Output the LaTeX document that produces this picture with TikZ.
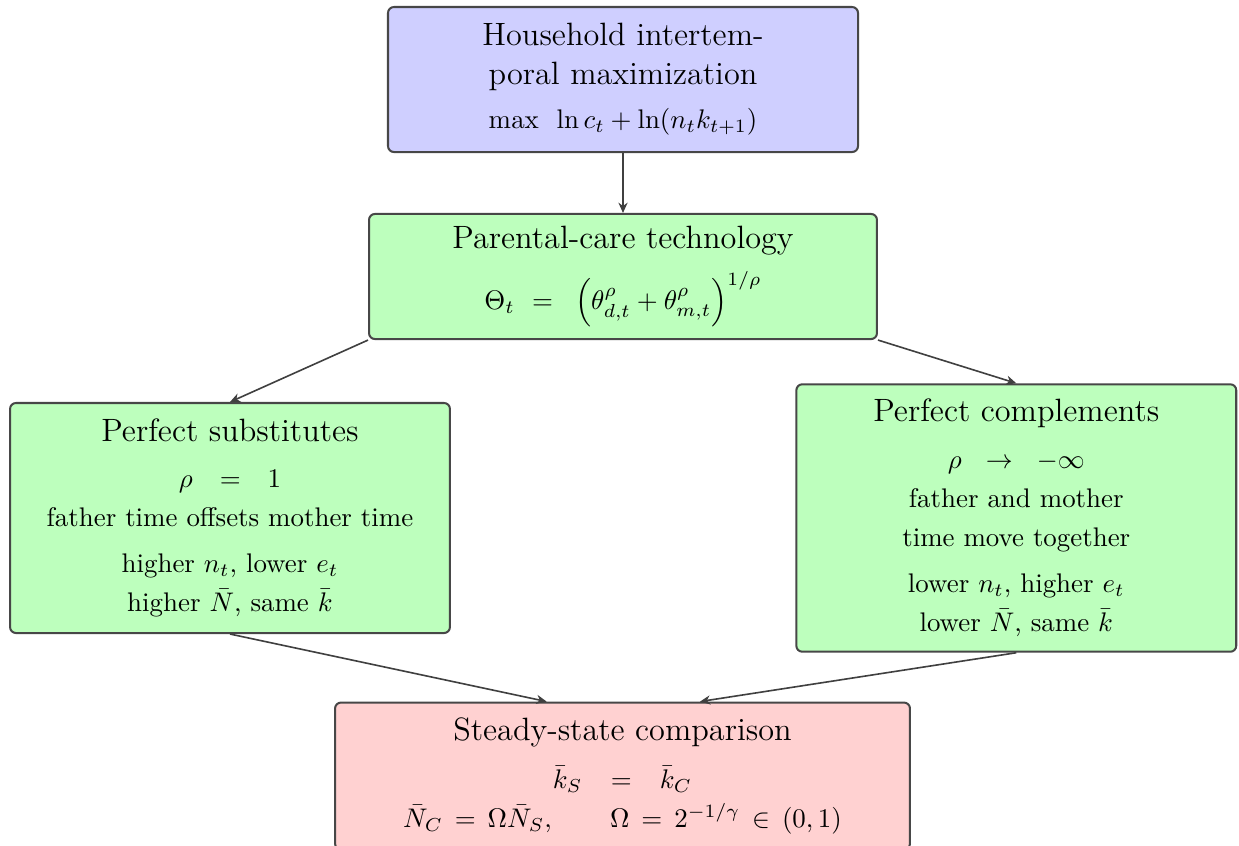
\documentclass[tikz,border=0pt]{standalone}
\usepackage{amsmath}
\usetikzlibrary{arrows.meta}
\tikzset{
  box/.style={draw=black!72, line width=0.75pt, rounded corners=2.2pt, align=center,
    inner sep=0pt, font=\fontsize{10pt}{14.4pt}\selectfont},
  bluebox/.style={box, fill=blue!19},
  greenbox/.style={box, fill=green!26},
  redbox/.style={box, fill=red!18},
  conn/.style={draw=black!75, line width=0.6pt, -{Stealth[length=3.8pt,width=3.4pt,inset=1.2pt]}}
}
\begin{document}
\begin{tikzpicture}[x=0.3717pt, y=-0.3717pt]
\useasboundingbox (0,0) rectangle (1239,845);

\node[bluebox, minimum width=174.7pt, minimum height=53.9pt] (house) at (623,79.5)
  {{\large Household intertem-}\\{\large poral maximization}\\[2pt]
   $\max\enspace \ln c_t + \ln(n_t k_{t+1})$};

\node[greenbox, minimum width=188.8pt, minimum height=46.5pt] (tech) at (623,276.5)
  {{\large Parental-care technology}\\[5pt]
   $\Theta_t\hspace{6.5pt}{=}\hspace{6.5pt}\left(\theta_{d,t}^{\rho}+\theta_{m,t}^{\rho}\right)^{1/\rho}$};

\node[greenbox, minimum width=163.5pt, minimum height=85.5pt] (subs) at (230,518)
  {{\large Perfect substitutes}\\[2.4pt]
   $\rho\hspace{10pt}{=}\hspace{10pt}1$\\[0.3pt]
   father time offsets mother time\\[2.7pt]
   higher $n_t$, lower $e_t$\\
   higher $\bar{N}$, same $\bar{k}$};

\node[greenbox, minimum width=163.5pt, minimum height=99.4pt] (comp) at (1016.3,518)
  {{\large Perfect complements}\\[2.9pt]
   $\rho\hspace{9pt}{\rightarrow}\hspace{9pt}{-\infty}$\\
   father and mother\\
   time move together\\[3pt]
   lower $n_t$, higher $e_t$\\
   lower $\bar{N}$, same $\bar{k}$};

\node[redbox, minimum width=213.7pt, minimum height=54.6pt] (steady) at (622.5,776)
  {{\large Steady-state comparison}\\[3.4pt]
   $\bar{k}_S\hspace{10.5pt}{=}\hspace{10.5pt}\bar{k}_C$\\
   $\thickmuskip=8mu \bar{N}_C = \Omega\bar{N}_S, \qquad \Omega = 2^{-1/\gamma} \in (0,1)$};

\draw[conn] (house.south) -- (tech.north);
\draw[conn] (tech.south west) -- (subs.north);
\draw[conn] (tech.south east) -- (comp.north);
\draw[conn] (subs.south) -- ([xshift=-28.2pt]steady.north);
\draw[conn] (comp.south) -- ([xshift=28.8pt]steady.north);
\end{tikzpicture}
\end{document}
